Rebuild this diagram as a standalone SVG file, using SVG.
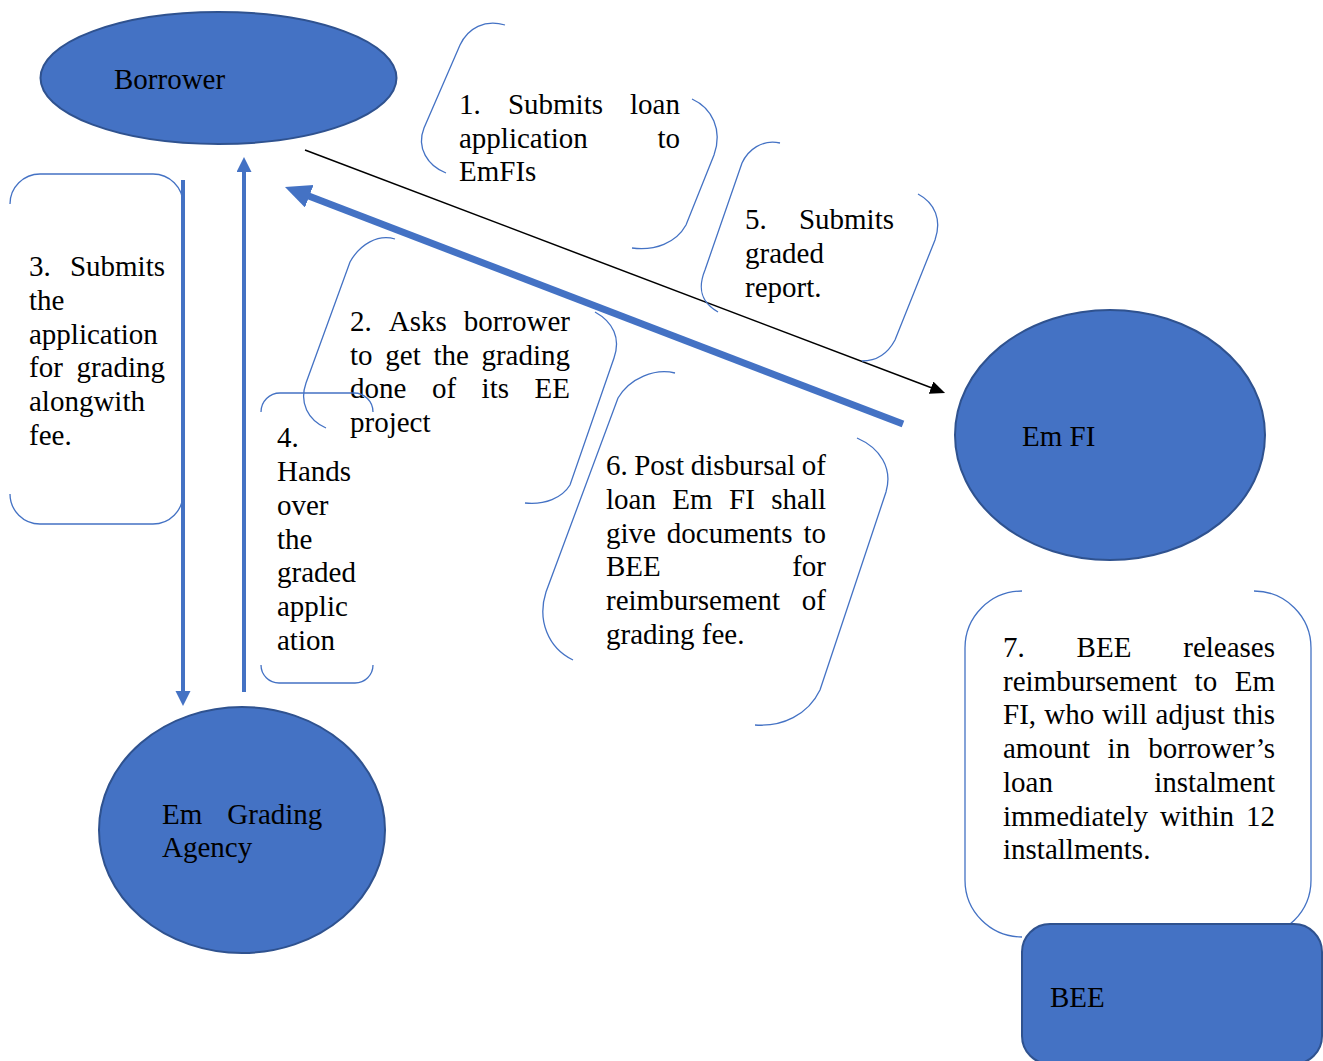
<svg xmlns="http://www.w3.org/2000/svg" width="1323" height="1061" viewBox="0 0 1323 1061">
<defs>
<style>
.node{fill:#4472C4;stroke:#2F528F;stroke-width:2}
.br{fill:none;stroke:#4472C4;stroke-width:1.3}
text{font-family:"Liberation Serif","Times New Roman",serif;font-size:29px;fill:#000}
.e{text-anchor:end}
</style>
<marker id="hBlack" markerUnits="userSpaceOnUse" markerWidth="16" markerHeight="14" refX="1" refY="6.5" orient="auto"><path d="M0,0 L15,6.5 L0,13 z" fill="#000"/></marker>
<marker id="hBlueBig" markerUnits="userSpaceOnUse" markerWidth="27" markerHeight="25" refX="2" refY="12" orient="auto"><path d="M0,0 L26,12 L0,24 z" fill="#4472C4"/></marker>
<marker id="hBlue" markerUnits="userSpaceOnUse" markerWidth="16" markerHeight="16" refX="1" refY="7.5" orient="auto"><path d="M0,0 L15,7.5 L0,15 z" fill="#4472C4"/></marker>
</defs>
<rect width="1323" height="1061" fill="#fff"/>

<g id="connectors">
<line x1="305" y1="150" x2="932" y2="388" stroke="#000" stroke-width="1.5" marker-end="url(#hBlack)"/>
<line x1="903" y1="424" x2="307.4" y2="195.6" stroke="#4472C4" stroke-width="7" marker-end="url(#hBlueBig)"/>
<line x1="183" y1="180" x2="183" y2="692" stroke="#4472C4" stroke-width="4" marker-end="url(#hBlue)"/>
<line x1="244" y1="692" x2="244" y2="171" stroke="#4472C4" stroke-width="4" marker-end="url(#hBlue)"/>
</g>

<g id="borrower">
<ellipse class="node" cx="218.5" cy="78" rx="178" ry="66"/>
<text x="114" y="89">Borrower</text>
</g>

<g id="emfi">
<ellipse class="node" cx="1110" cy="435" rx="155" ry="125"/>
<text x="1022" y="446">Em FI</text>
</g>

<g id="agency">
<ellipse class="node" cx="242" cy="830" rx="143" ry="123"/>
<text y="824"><tspan x="162">Em</tspan><tspan x="227.3">Grading</tspan></text>
<text x="162" y="857">Agency</text>
</g>

<g id="step1">
<path class="br" d="M505,25 C485,19 468,28 460,45 L424,128 C416,148 428,166 446,173"/>
<path class="br" d="M692,99 C712,108 723,130 714,155 L686,225 C676,243 655,251 632,248"/>
<text y="114"><tspan x="459">1.</tspan><tspan x="507.9">Submits</tspan><tspan x="680" class="e">loan</tspan></text>
<text y="148"><tspan x="459">application</tspan><tspan x="680" class="e">to</tspan></text>
<text x="459" y="181">EmFIs</text>
</g>

<g id="step5">
<path class="br" d="M780,143 C762,139 748,150 742,163 L705,270 C696,292 704,304 718,312"/>
<path class="br" d="M918,194 C935,203 942,220 935,240 L895,340 C887,355 876,361 862,361"/>
<text y="229"><tspan x="745">5.</tspan><tspan x="894" class="e">Submits</tspan></text>
<text x="745" y="263">graded</text>
<text x="745" y="297">report.</text>
</g>

<g id="step3">
<path class="br" d="M10,204 A30,30 0 0 1 40,174 L153,174 A30,30 0 0 1 183,204"/>
<path class="br" d="M10,494 A30,30 0 0 0 40,524 L153,524 A30,30 0 0 0 183,494"/>
<text y="276"><tspan x="29">3.</tspan><tspan x="165" class="e">Submits</tspan></text>
<text x="29" y="310">the</text>
<text x="29" y="344">application</text>
<text y="377"><tspan x="29">for</tspan><tspan x="165" class="e">grading</tspan></text>
<text x="29" y="411">alongwith</text>
<text x="29" y="445">fee.</text>
</g>

<g id="step2">
<path class="br" d="M395,239 C378,234 360,244 350,262 L306,383 C299,403 308,420 326,428"/>
<path class="br" d="M595,312 C613,322 621,338 614,358 L570,485 C562,498 545,505 525,503"/>
<text y="331"><tspan x="350">2.</tspan><tspan x="388.8">Asks</tspan><tspan x="570" class="e">borrower</tspan></text>
<text y="365"><tspan x="350">to</tspan><tspan x="385.3">get</tspan><tspan x="433.4">the</tspan><tspan x="570" class="e">grading</tspan></text>
<text y="398"><tspan x="350">done</tspan><tspan x="431.9">of</tspan><tspan x="481.6">its</tspan><tspan x="570" class="e">EE</tspan></text>
<text x="350" y="432">project</text>
</g>

<g id="step4">
<path class="br" d="M261,412 A19,19 0 0 1 280,393 L354,393 A19,19 0 0 1 373,412"/>
<path class="br" d="M261,665 A18,18 0 0 0 279,683 L355,683 A18,18 0 0 0 373,665"/>
<text x="277" y="447">4.</text>
<text x="277" y="481">Hands</text>
<text x="277" y="515">over</text>
<text x="277" y="549">the</text>
<text x="277" y="582">graded</text>
<text x="277" y="616">applic</text>
<text x="277" y="650">ation</text>
</g>

<g id="step6">
<path class="br" d="M675,373 C655,368 630,378 618,398 L546,592 C537,620 548,648 573,660"/>
<path class="br" d="M857,438 C880,448 893,468 886,492 L820,690 C808,715 782,727 755,725"/>
<text y="475"><tspan x="606">6.</tspan><tspan x="634.2">Post</tspan><tspan x="690.7">disbursal</tspan><tspan x="826" class="e">of</tspan></text>
<text y="509"><tspan x="606">loan</tspan><tspan x="672.3">Em</tspan><tspan x="729">FI</tspan><tspan x="826" class="e">shall</tspan></text>
<text y="543"><tspan x="606">give</tspan><tspan x="666.8">documents</tspan><tspan x="826" class="e">to</tspan></text>
<text y="576"><tspan x="606">BEE</tspan><tspan x="826" class="e">for</tspan></text>
<text y="610"><tspan x="606">reimbursement</tspan><tspan x="826" class="e">of</tspan></text>
<text x="606" y="644">grading fee.</text>
</g>

<g id="step7">
<path class="br" d="M1022,591 A57,57 0 0 0 965,648 L965,880 A57,57 0 0 0 1022,937"/>
<path class="br" d="M1254,591 A57,57 0 0 1 1311,648 L1311,880 A57,57 0 0 1 1254,937"/>
<text y="657"><tspan x="1003">7.</tspan><tspan x="1076.6">BEE</tspan><tspan x="1275" class="e">releases</tspan></text>
<text y="691"><tspan x="1003">reimbursement</tspan><tspan x="1194.6">to</tspan><tspan x="1275" class="e">Em</tspan></text>
<text y="724"><tspan x="1003">FI,</tspan><tspan x="1044.2">who</tspan><tspan x="1102.3">will</tspan><tspan x="1155.6">adjust</tspan><tspan x="1275" class="e">this</tspan></text>
<text y="758"><tspan x="1003">amount</tspan><tspan x="1107.6">in</tspan><tspan x="1275" class="e">borrower’s</tspan></text>
<text y="792"><tspan x="1003">loan</tspan><tspan x="1275" class="e">instalment</tspan></text>
<text y="826"><tspan x="1003">immediately</tspan><tspan x="1160">within</tspan><tspan x="1275" class="e">12</tspan></text>
<text x="1003" y="859">installments.</text>
</g>

<g id="bee">
<rect class="node" x="1022" y="924" width="300" height="140" rx="28" ry="28"/>
<text x="1050" y="1007">BEE</text>
</g>
</svg>
